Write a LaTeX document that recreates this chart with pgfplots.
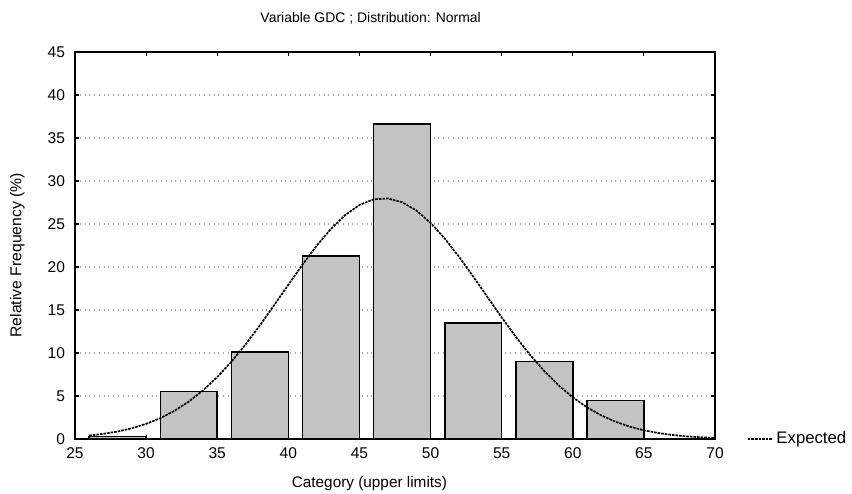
\documentclass[border=0pt]{standalone}
\usepackage{fontspec}
\setmainfont{Liberation Sans}
\usepackage{pgfplots}
\usepackage{pgfplotstable}
\pgfplotsset{compat=1.18}

% bars: upper limit of each category, relative frequency (%)
\pgfplotstableread{
upper freq
30 0.3
35 5.5
40 10.1
45 21.3
50 36.6
55 13.5
60 9.0
65 4.5
}\histdata

\begin{document}
\begin{tikzpicture}
\useasboundingbox (0,0) rectangle (426bp,247bp);
\begin{axis}[
  at={(37.5bp,27.5bp)}, anchor=south west,
  scale only axis,
  width=320bp, height=193.5bp,
  xmin=25, xmax=70, ymin=0, ymax=45,
  xtick={25,30,...,70}, ytick={0,5,...,45},
  tick align=inside,
  major tick length=2bp,
  tick style={black, line width=0.6pt},
  axis line style={line width=0.9pt},
  ymajorgrids=true,
  grid style={gray!70, dotted, line width=0.6pt},
  ticklabel style={font=\fontsize{7.8}{9}\selectfont},
  /pgf/number format/assume math mode=true,
  xticklabel style={yshift=-1bp},
  yticklabel style={xshift=-1.5bp},
  xlabel={Category (upper limits)},
  xlabel style={at={(axis description cs:0.46,-0.115)}, anchor=center,
                font=\fontsize{7.7}{9}\selectfont},
  ylabel={Relative Frequency (\%)},
  ylabel style={at={(axis description cs:-0.09,0.475)}, anchor=center,
                font=\fontsize{7.9}{9}\selectfont},
  every axis title shift=0pt,
  title={Variable GDC ; Distribution: Normal},
  title style={at={(axis description cs:0.462,1.088)}, anchor=center,
               font=\fontsize{7}{8}\selectfont},
  legend style={at={(axis description cs:1.04,0)}, anchor=west,
                draw=none, fill=none, font=\fontsize{8.4}{9}\selectfont},
  legend image code/.code={
    \draw[#1] (0cm,0cm) -- (0.42cm,0cm);},
  clip=false,
]
  \addplot[ybar, bar width=4, fill=gray!47, draw=black, line width=0.75pt,
           forget plot]
    table[x expr=\thisrow{upper}-2, y=freq] {\histdata};
  \addplot[black, line width=0.85pt, dash pattern=on 1.3bp off 0.5bp]
    coordinates {
      (26,0.40)(27,0.60)(28,0.87)(29,1.25)(30,1.76)(31,2.43)(32,3.28)
      (33,4.35)(34,5.65)(35,7.20)(36,8.99)(37,11.01)(38,13.22)(39,15.55)
      (40,17.94)(41,20.29)(42,22.49)(43,24.44)(44,26.05)(45,27.21)
      (46,27.87)(47,27.97)(48,27.53)(49,26.57)(50,25.13)(51,23.31)
      (52,21.19)(53,18.89)(54,16.50)(55,14.14)(56,11.87)(57,9.77)
      (58,7.89)(59,6.24)(60,4.84)(61,3.68)(62,2.75)(63,2.01)(64,1.44)
      (65,1.01)(66,0.70)(67,0.47)(68,0.31)(69,0.20)(70,0.13)};
  \legend{Expected}
\end{axis}
\end{tikzpicture}
\end{document}
